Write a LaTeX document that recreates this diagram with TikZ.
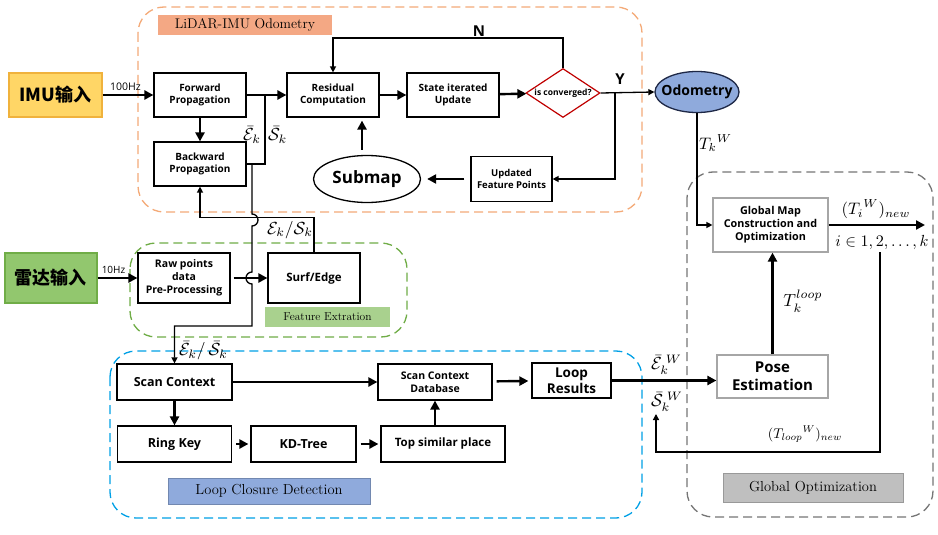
\documentclass[tikz,border=0pt]{standalone}
\usepackage{fontspec}
\setsansfont{Open Sans}
\newfontfamily\cjk{Noto Sans CJK SC}
\usepackage{tikz}
\usetikzlibrary{arrows.meta, shapes.geometric}

\definecolor{imufill}{RGB}{255,214,102}
\definecolor{imuedge}{RGB}{240,178,60}
\definecolor{radarfill}{RGB}{146,199,110}
\definecolor{radaredge}{RGB}{112,173,71}
\definecolor{odoline}{RGB}{244,170,120}
\definecolor{odotag}{RGB}{244,168,132}
\definecolor{featline}{RGB}{112,173,71}
\definecolor{feattag}{RGB}{169,209,142}
\definecolor{loopline}{RGB}{0,160,230}
\definecolor{looptag}{RGB}{143,170,220}
\definecolor{optline}{RGB}{118,118,118}
\definecolor{opttag}{RGB}{191,191,191}
\definecolor{odofill}{RGB}{143,170,220}
\definecolor{odoedge}{RGB}{30,40,70}
\definecolor{convred}{RGB}{192,0,0}
\definecolor{boxgray}{RGB}{166,166,166}

\newcommand{\sz}[2]{\fontsize{#1}{#2}\selectfont}

\begin{document}
\begin{tikzpicture}[x=1pt, y=-1pt, >={Triangle[length=6pt,width=6pt]},
  block/.style={draw, line width=1.2pt, fill=white, align=center, inner sep=1pt,
    font=\sffamily\bfseries\sz{10}{12}},
  wh/.style 2 args={minimum width=#1pt, minimum height=#2pt},
  tagbar/.style={inner sep=0pt, font=\rmfamily\sz{14.5}{16}},
  groupframe/.style={line width=1.3pt, dash pattern=on 9pt off 5pt, rounded corners=26pt},
  fat/.style={line width=2.4pt, -{Triangle[length=9pt,width=9pt]}},
  wire/.style={line width=1.3pt},
  lab/.style={inner sep=1pt, scale=1.75, font=\sz{10}{12}}]

\fill[white] (0,0) rectangle (938,535);
\useasboundingbox (0,0) rectangle (938,535);

% Group frames and their tags
\draw[groupframe, draw=odoline] (138,7) rectangle (642,212);
\draw[groupframe, draw=featline] (130,243) rectangle (407,337);
\draw[groupframe, draw=loopline] (110,351) rectangle (642,518);
\draw[groupframe, draw=optline] (687,172) rectangle (933,517);
\node[tagbar, fill=odotag, wh={174}{20}, font=\rmfamily\sz{14}{16}] (odotag) at (245,25) {LiDAR-IMU Odometry};
\node[tagbar, fill=feattag, wh={125}{20}, font=\rmfamily\sz{11.5}{13}] (feattag) at (327.5,317) {Feature Extration};
\node[tagbar, fill=looptag, draw=looptag!80!black, line width=0.4pt, wh={202}{26}] (looptag) at (269,491) {Loop Closure Detection};
\node[tagbar, fill=opttag, draw=opttag!80!black, line width=0.4pt, wh={180}{29}] (opttag) at (813,487.5) {Global Optimization};

% Inputs
\node[block, draw=imuedge, fill=imufill, wh={93}{44}, font=\cjk\bfseries\sz{18}{20}] (imu) at (55.5,95) {IMU输入};
\node[block, draw=radaredge, fill=radarfill, wh={92}{50}, font=\cjk\bfseries\sz{18}{20}] (radar) at (51,278) {雷达输入};

% LiDAR-IMU odometry
\node[block, wh={92}{44}] (fwd) at (200,95) {Forward\\Propagation};
\node[block, wh={92}{44}] (bwd) at (200,164) {Backward\\Propagation};
\node[block, wh={92}{44}] (res) at (333,95) {Residual\\Computation};
\node[block, wh={92}{44}] (state) at (453,95) {State iterated\\Update};
\node[draw=convred, line width=1.2pt, fill=white, diamond, aspect=1.5, inner sep=0pt, wh={74}{49},
  font=\sffamily\bfseries\sz{8.5}{10}] (conv) at (563,93) {is converged?};
\node[block, wh={81}{45}, font=\sffamily\bfseries\sz{9.5}{12}] (upd) at (511.5,179) {Updated\\Feature Points};
\node[draw, ellipse, line width=1.3pt, fill=white, inner sep=0pt, wh={107}{47},
  font=\sffamily\bfseries\sz{17}{19}] (sub) at (367,179) {Submap};
\node[draw=odoedge, ellipse, line width=1.3pt, fill=odofill, inner xsep=-7pt, inner ysep=0pt, wh={84}{41},
  font=\sffamily\bfseries\sz{14}{16}] (odo) at (697,92) {Odometry};

% Feature extraction
\node[block, wh={92}{50}, font=\sffamily\bfseries\sz{10.5}{13}] (raw) at (184,278) {Raw points\\data\\Pre-Processing};
\node[block, wh={92}{50}, font=\sffamily\bfseries\sz{11.5}{13}] (surf) at (314,278) {Surf/Edge};

% Loop closure
\node[block, wh={115}{36}, font=\sffamily\bfseries\sz{12.5}{14}] (scan) at (174.5,382) {Scan Context};
\node[block, wh={114}{36}, font=\sffamily\bfseries\sz{12.5}{14}] (ring) at (174.5,444) {Ring Key};
\node[block, wh={105}{36}, font=\sffamily\bfseries\sz{12.5}{14}] (kd) at (303.5,444) {KD-Tree};
\node[block, wh={124}{36}, font=\sffamily\bfseries\sz{11.5}{14}] (top) at (443,444) {Top similar place};
\node[block, wh={114}{36}, font=\sffamily\bfseries\sz{10.5}{12.5}] (db) at (435,382) {Scan Context\\Database};
\node[block, wh={79}{35}, font=\sffamily\bfseries\sz{13.5}{16}] (loopres) at (571.5,380.5) {Loop\\Results};

% Global optimization
\node[block, draw=boxgray, wh={115}{54}, font=\sffamily\bfseries\sz{10.8}{13}] (gmap) at (770.5,225) {Global Map\\Construction and\\Optimization};
\node[block, draw=boxgray, wh={111}{43}, font=\sffamily\bfseries\sz{15}{18}] (pose) at (772.5,376.5) {Pose\\Estimation};

% Odometry connectors
\draw[fat] (imu) -- node[above, pos=0.45, font=\sffamily\sz{10.5}{12}] {100Hz} (fwd);
\draw[fat] (fwd) -- (res);
\draw[fat] (fwd) -- (bwd);
\coordinate (merge) at (265,95);
\coordinate (split) at (252,164);
\draw[wire] (bwd.east) -| (merge);
\node[lab, anchor=east] (ebar) at (263,135) {$\bar{\mathcal{E}}_k$};
\node[lab, anchor=west] (sbar) at (266,135) {$\bar{\mathcal{S}}_k$};
\draw[fat] (res) -- (state);
\draw[fat] (state) -- (conv);
\draw[wire, ->] (conv.north) -- ++(0,-30) -| (res.north);
\node[font=\sffamily\bfseries\sz{15}{17}] (nlab) at (479,31) {N};
\draw[wire, ->] (conv.east) -- (odo.west);
\node[font=\sffamily\bfseries\sz{15}{17}] (ylab) at (620,79) {Y};
\coordinate (ysplit) at (615,93);
\draw[wire, ->] (ysplit) |- (upd.east);
\draw[fat, shorten <=6pt, shorten >=6pt] (upd) -- (sub);
\draw[fat, shorten <=5pt, shorten >=3pt] ([xshift=-5pt]sub.north) -- ([xshift=-5pt]sub.north |- res.south);

% Feature connectors
\draw[fat] (radar) -- node[above, pos=0.4, font=\sffamily\sz{10}{12}] {10Hz} (raw);
\draw[fat, shorten <=3pt] (raw) -- (surf);
\draw[wire, ->] (surf.north) -- ++(0,-35) -| (bwd.south);
\node[lab] (es) at (290,230) {$\mathcal{E}_k/\mathcal{S}_k$};
\draw[wire, ->] (split) -- (252,214) arc[start angle=-90, end angle=90, radius=6]
  -- (252,272) arc[start angle=270, end angle=90, radius=6] -- (252,326) -| (scan.north);
\node[lab, anchor=west] (esbar) at (177,351) {$\bar{\mathcal{E}}_k/\,\bar{\mathcal{S}}_k$};

% Loop closure connectors
\draw[fat] (scan) -- (db);
\draw[fat] (scan) -- (ring);
\draw[fat, shorten <=4pt, shorten >=2pt] (ring) -- (kd);
\draw[fat, shorten <=4pt, shorten >=2pt] (kd) -- (top);
\draw[fat] (top.north -| db.south) -- (db.south);
\draw[fat, shorten <=4pt, shorten >=3pt] (db) -- (loopres);
\draw[fat] (loopres.east) -- (loopres.east -| pose.west);
\node[lab, anchor=west] (ekw) at (649,365) {${\bar{\mathcal{E}}_k}^{\;W}$};
\node[lab, anchor=west] (skw) at (649,402) {${\bar{\mathcal{S}}_k}^{\;W}$};

% Global optimization connectors
\draw[wire, ->] (odo.south) |- (gmap.west);
\node[lab, anchor=west, scale=0.95] (tkw) at (697,143) {${T_k}^W$};
\coordinate (outp) at (925,225);
\draw[fat] (gmap.east) -- (outp);
\node[lab, scale=0.95] (tiw) at (876,209) {$({T_i}^W)_{new}$};
\node[lab, scale=0.92] (iset) at (882,242) {$i\in 1,2,\ldots,k$};
\draw[fat] (pose.north) -- (pose.north |- gmap.south);
\node[lab] (tloop) at (803,301) {$T_k^{loop}$};
\coordinate (fbstart) at (880,252);
\coordinate (fbcorner) at (880,452);
\coordinate (fbend) at (656,414);
\draw[wire, ->] (fbstart) -- (fbcorner) -| (fbend);
\node[lab, scale=0.8] (tloopw) at (805,434) {$({T_{loop}}^W)_{new}$};

\end{tikzpicture}
\end{document}
